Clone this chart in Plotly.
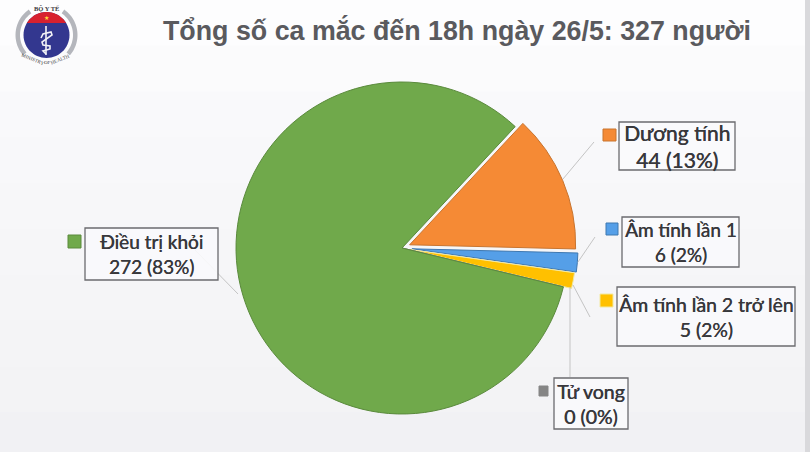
import math
import plotly.graph_objects as go

W, H = 810, 458
categories = ["Dương tính", "Âm tính lần 1", "Âm tính lần 2 trở lên", "Tử vong", "Điều trị khỏi"]
values = [44, 6, 5, 0, 272]
percents = [13, 2, 2, 0, 83]
fill_colors = ["#F58A35", "#559FE8", "#FFC000", "#858585", "#70A94B"]
line_colors = ["#C8742F", "#3F78B0", "#F2E9A0", "#858585", "#5A8A3C"]
pulls = [0.05, 0.06, 0.05, 0, 0]
title = "Tổng số ca mắc đến 18h ngày 26/5: 327 người"

boxes = [(619, 122, 735, 170), (622, 217, 739, 267), (617, 287, 795, 346), (554, 378, 628, 429), (85, 228, 218, 280)]
markers = [(603, 129, 616, 141), (606, 223, 618, 235), (600, 294, 613, 307), (539, 386, 548, 396), (68, 235, 81, 248)]
leaders = [[(563, 179), (594, 142)], [(578, 262), (595, 237)], [(573, 285), (590, 317)], [(570, 287), (570, 377)], [(195, 250), (238, 294)]]
label_sizes = [21, 19, 19.4, 19.5, 19]
bands = ["#fdfdfe", "#fbfbfc", "#f9f9fb", "#f8f8fa", "#f7f7f9", "#f6f6f8", "#f5f5f7", "#f4f4f6", "#f3f3f5", "#f1f1f4"]


def px(x):
    return x / W


def py(y):
    return 1 - y / H


def pth(points, close=False):
    s = "M " + " L ".join(f"{px(x):.5f},{py(y):.5f}" for x, y in points)
    return s + (" Z" if close else "")


def arc(cx, cy, r, a0, a1, n=30):
    return [(cx + r * math.cos(math.radians(a0 + (a1 - a0) * i / n)),
             cy + r * math.sin(math.radians(a0 + (a1 - a0) * i / n))) for i in range(n + 1)]


def rect(x0, y0, x1, y1, fill="rgba(0,0,0,0)", line="rgba(0,0,0,0)", lw=1):
    return dict(type="rect", xref="paper", yref="paper", x0=px(x0), y0=py(y0), x1=px(x1), y1=py(y1),
                fillcolor=fill, line=dict(color=line, width=lw))


shapes = []
step = H / len(bands)
for i, c in enumerate(bands):
    shapes.append(dict(rect(0, i * step, W, (i + 1) * step + 1, fill=c), layer="below"))
shapes.append(dict(rect(805, 0, 810, H, fill="#d9d9dc"), layer="below"))
shapes.append(dict(rect(0, 452, 810, H, fill="#ffffff"), layer="below"))

for pts in leaders:
    shapes.append(dict(type="path", xref="paper", yref="paper", path=pth(pts), line=dict(color="#c4c4c4", width=1)))
for m, f, l in zip(markers, fill_colors, line_colors):
    shapes.append(rect(*m, fill=f, line=l, lw=1))
for b in boxes:
    shapes.append(rect(*b, fill="rgba(250,250,252,0.9)", line="#6b6b6f", lw=1.3))

cx, cy = 46.5, 35
for a0, a1 in [(-221, -125), (-55, 41)]:
    outer = arc(cx, cy, 31, a0, a1)
    inner = arc(cx, cy, 26.5, a1, a0)
    shapes.append(dict(type="path", xref="paper", yref="paper", path=pth(outer + inner, True),
                       fillcolor="#b4b6bc", line=dict(width=0)))
shapes.append(dict(type="path", xref="paper", yref="paper", path=pth(arc(cx, cy, 23, 0, 360, 60), True),
                   fillcolor="#33378f", line=dict(width=0)))
shapes.append(dict(type="path", xref="paper", yref="paper", path=pth(arc(cx, cy, 23, -148.6, -31.4), True),
                   fillcolor="#d8212f", line=dict(width=0)))
shapes.append(dict(type="path", xref="paper", yref="paper", path=pth([(46, 26), (46, 55)]),
                   line=dict(color="#f2f2f6", width=1.6)))
shapes.append(dict(type="path", xref="paper", yref="paper",
                   path=pth([(41, 38), (43, 34), (51, 32), (52, 35), (42, 42), (43, 45), (50, 46), (50, 49), (43, 51), (46, 54)]),
                   line=dict(color="#f2f2f6", width=1.6)))


def note(text, x, y, family, size, color, angle=0, shadow=None):
    font = dict(family=family, size=size, color=color)
    if shadow:
        font["shadow"] = shadow
    return dict(text=text, x=px(x), y=py(y), xref="paper", yref="paper", showarrow=False, align="center",
                xanchor="center", yanchor="middle", textangle=angle, font=font)


annotations = [note(f"<b>{title}</b>", 456.5, 31, "Liberation Sans", 26.8, "#5a5a5e")]
for cat, v, p, b, s in zip(categories, values, percents, boxes, label_sizes):
    annotations.append(note(f"{cat}<br>{v} ({p}%)", (b[0] + b[2]) / 2, (b[1] + b[3]) / 2, "Lato", s, "#38383c",
                            shadow="0.4px 0 0 #38383c"))
annotations += [
    note("★", 46.5, 18, "DejaVu Sans", 6, "#ffd83a"),
    note("<b>BỘ Y TẾ</b>", 46.5, 8, "Liberation Serif", 6.5, "#3a3a40"),
    note("MINISTRY", 33, 59, "Liberation Serif", 5, "#3a3a40", 22),
    note("OF", 47, 63, "Liberation Serif", 5, "#3a3a40"),
    note("HEALTH", 60, 59, "Liberation Serif", 5, "#3a3a40", -22),
]

R = 166
outer_r = R * (1 + max(pulls))
pie_cx, pie_cy = 402, 248

fig = go.Figure(go.Pie(
    labels=categories, values=values, pull=pulls, sort=False, direction="clockwise", rotation=43,
    textinfo="none", hoverinfo="label+value",
    marker=dict(colors=fill_colors, line=dict(color=line_colors, width=1)),
    domain=dict(x=[px(pie_cx - outer_r), px(pie_cx + outer_r)], y=[py(pie_cy + outer_r), py(pie_cy - outer_r)]),
))
fig.update_layout(width=W, height=H, margin=dict(l=0, r=0, t=0, b=0), showlegend=False,
                  paper_bgcolor="#ffffff", shapes=shapes, annotations=annotations)
fig.write_html("out.html", config={"displayModeBar": False},
               post_script="document.body.style.margin='0';document.body.style.overflow='hidden';")
